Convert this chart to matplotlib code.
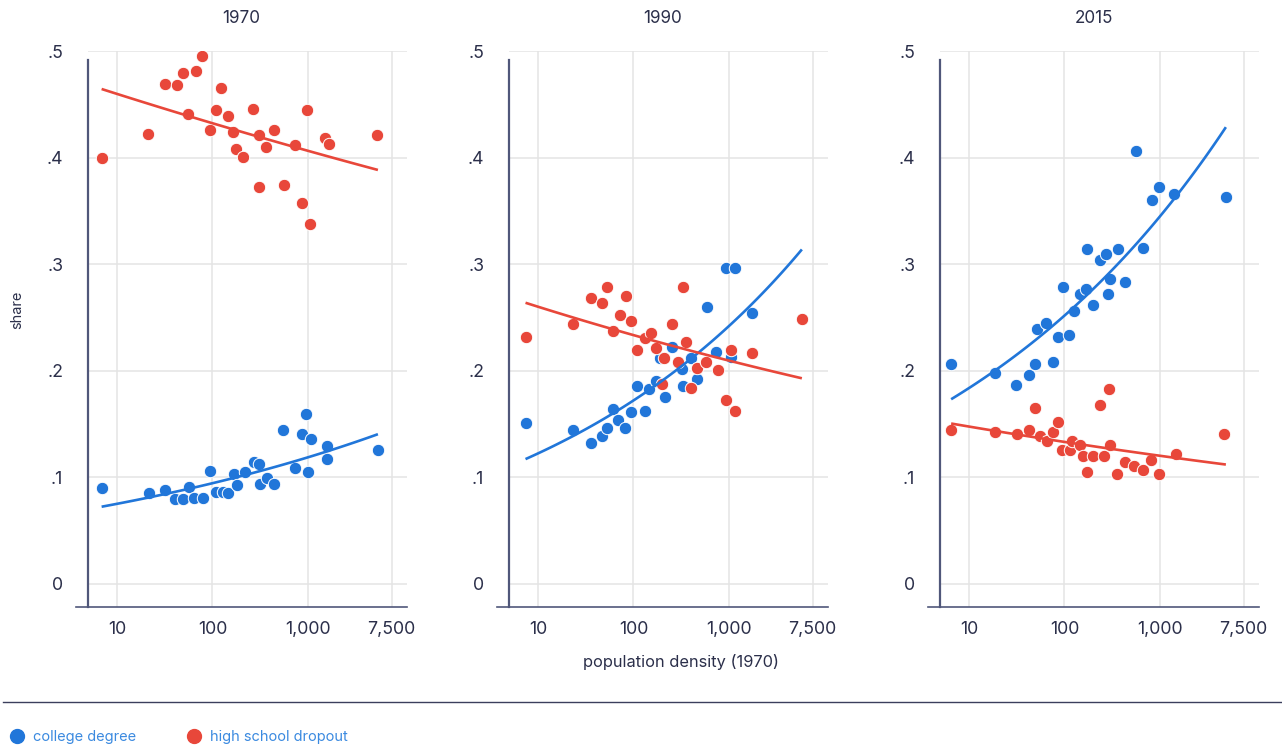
import numpy as np
import matplotlib
matplotlib.use("Agg")
import matplotlib.pyplot as plt
from matplotlib.lines import Line2D

plt.rcParams["font.family"] = ["Inter", "DejaVu Sans"]

BLUE = "#2176d9"
RED = "#e8473a"
INK = "#2b2f4a"
SPINE = "#50577a"
GRID = "#e4e4e4"

years = ["1970", "1990", "2015"]

# 1970
col_x_1970 = [6.9, 21.8, 31.8, 40.5, 49.4, 57, 63.8, 79.4, 94, 108.7, 129, 145, 167, 181, 217,
              271, 309, 311, 374, 440, 543, 725, 859, 963, 1003, 1063, 1582, 1582, 5400]
col_y_1970 = [0.090, 0.085, 0.088, 0.080, 0.080, 0.091, 0.081, 0.081, 0.106, 0.086, 0.086, 0.085, 0.1035, 0.093, 0.105,
              0.114, 0.113, 0.094, 0.099, 0.0935, 0.1445, 0.109, 0.141, 0.159, 0.105, 0.136, 0.129, 0.117, 0.126]
hs_x_1970 = [6.9, 20.9, 31.6, 42.7, 48.7, 67.2, 77.1, 55.8, 123.6, 108.2, 93.5, 144, 165, 176,
             210, 266, 309, 307, 366, 440, 556, 736, 859, 984, 1057, 1518, 1648, 5236]
hs_y_1970 = [0.400, 0.422, 0.469, 0.468, 0.479, 0.481, 0.495, 0.441, 0.465, 0.445, 0.426, 0.439, 0.424, 0.408,
             0.401, 0.446, 0.4215, 0.372, 0.410, 0.426, 0.374, 0.412, 0.357, 0.445, 0.338, 0.418, 0.413, 0.421]

# 1990
col_x_1990 = [7.4, 23.3, 35.7, 46.5, 52.6, 60.8, 69, 82.4, 95.3, 108.4, 131.7, 146, 172, 190.6, 215,
              255, 322, 333, 400, 463, 593, 738, 923, 1051, 1148, 1746]
col_y_1990 = [0.151, 0.144, 0.1325, 0.139, 0.146, 0.1645, 0.154, 0.146, 0.161, 0.186, 0.1626, 0.183, 0.1907, 0.2117, 0.175,
              0.222, 0.2017, 0.186, 0.2117, 0.1923, 0.260, 0.218, 0.2967, 0.213, 0.2967, 0.254]
hs_x_1990 = [7.4, 23.3, 35.9, 46.5, 52.6, 60.8, 73.1, 83.2, 95.3, 108.4, 131.7, 152.4, 172, 197,
             208.5, 255, 294, 333, 357, 403, 463, 574, 767, 923, 1059, 1148, 1746, 5800]
hs_y_1990 = [0.232, 0.244, 0.2686, 0.264, 0.279, 0.237, 0.252, 0.2705, 0.2467, 0.2195, 0.2305, 0.2357, 0.2217, 0.188,
             0.2117, 0.244, 0.2085, 0.279, 0.2267, 0.1839, 0.203, 0.208, 0.2008, 0.173, 0.2195, 0.1626, 0.217, 0.249]

# 2015
col_x_2015 = [6.5, 18.8, 31.3, 42.5, 48.7, 75.2, 85.5, 111.5, 51.9, 63.9, 125.6, 97.3, 144, 168,
              198.6, 286, 298.5, 435, 235, 271.6, 174, 366, 661, 558, 832, 977, 1400, 4900]
col_y_2015 = [0.206, 0.198, 0.1867, 0.1958, 0.206, 0.208, 0.2314, 0.2336, 0.239, 0.2446, 0.2564, 0.279, 0.2718, 0.2765,
              0.2617, 0.2718, 0.2861, 0.2836, 0.3043, 0.3093, 0.3143, 0.3143, 0.315, 0.406, 0.360, 0.372, 0.3656, 0.363]
hs_x_2015 = [6.5, 18.8, 32.1, 42.5, 48.7, 55.8, 65, 75.2, 85.5, 95.3, 114.5, 120, 146, 155,
             174, 197, 233, 259, 294, 297, 351, 429, 536, 665, 806, 977, 1469, 4680]
hs_y_2015 = [0.144, 0.1423, 0.1407, 0.1445, 0.165, 0.139, 0.134, 0.1426, 0.152, 0.1254, 0.1254, 0.1344, 0.130, 0.120,
             0.1054, 0.120, 0.168, 0.120, 0.183, 0.130, 0.103, 0.1147, 0.111, 0.107, 0.116, 0.103, 0.122, 0.141]

college = [(col_x_1970, col_y_1970), (col_x_1990, col_y_1990), (col_x_2015, col_y_2015)]
dropout = [(hs_x_1970, hs_y_1970), (hs_x_1990, hs_y_1990), (hs_x_2015, hs_y_2015)]

x_ticks = [10, 100, 1000, 7500]
x_tick_labels = ["10", "100", "1,000", "7,500"]
y_ticks = [0, 0.1, 0.2, 0.3, 0.4, 0.5]
y_tick_labels = ["0", ".1", ".2", ".3", ".4", ".5"]

W, H = 1282, 751
fig = plt.figure(figsize=(W / 100, H / 100), dpi=100)

XMIN, XMAX = 3.72, 10890
YMIN, YMAX = -0.0216, 0.5
offsets = [0, 421, 852]


def trend(ax, x, y, xlo, xhi, color):
    # power-law fit: log(share) linear in log(density)
    b, a = np.polyfit(np.log(np.asarray(x)), np.log(np.asarray(y)), 1)
    xs = np.geomspace(xlo, xhi, 100)
    ax.plot(xs, np.exp(a + b * np.log(xs)), color=color, lw=1.9, zorder=4, solid_capstyle="butt")


for i, dx in enumerate(offsets):
    left = (76 + dx) / W
    ax = fig.add_axes([left, 1 - 607 / H, 331 / W, 556 / H])
    ax.set_xscale("log")
    ax.set_xlim(XMIN, XMAX)
    ax.set_ylim(YMIN, YMAX)

    ax.hlines(y_ticks, 5, XMAX, color=GRID, lw=1.1, zorder=0)
    ax.vlines(x_ticks, YMIN, YMAX, color=GRID, lw=1.1, zorder=0)

    cx, cy = college[i]
    hx, hy = dropout[i]
    ax.scatter(cx, cy, s=80, color=BLUE, edgecolor="white", linewidth=0.7, zorder=2)
    ax.scatter(hx, hy, s=80, color=RED, edgecolor="white", linewidth=0.7, zorder=3)
    xlo = min(min(cx), min(hx))
    xhi = max(max(cx), max(hx))
    trend(ax, cx, cy, xlo, xhi, BLUE)
    trend(ax, hx, hy, xlo, xhi, RED)

    ax.set_xticks(x_ticks)
    ax.set_xticklabels(x_tick_labels)
    ax.xaxis.set_minor_locator(matplotlib.ticker.NullLocator())
    ax.set_yticks(y_ticks)
    ax.set_yticklabels(y_tick_labels)
    ax.tick_params(axis="x", length=0, pad=10, labelsize=12.8, labelcolor=INK)
    ax.tick_params(axis="y", length=0, pad=18, labelsize=12.8, labelcolor=INK)

    for s in ["top", "right"]:
        ax.spines[s].set_visible(False)
    ax.spines["left"].set_position(("data", 5))
    ax.spines["left"].set_bounds(YMIN, 0.492)
    ax.spines["left"].set_color(SPINE)
    ax.spines["left"].set_linewidth(1.6)
    ax.spines["bottom"].set_color(SPINE)
    ax.spines["bottom"].set_linewidth(1.2)

    ax.set_title(years[i], fontsize=12.3, color=INK, pad=20)

fig.text(17 / W, 1 - 310 / H, "share", rotation=90, ha="center", va="center", fontsize=10.5, color=INK)
fig.text(681 / W, 1 - 662 / H, "population density (1970)", ha="center", va="center", fontsize=11.8, color=INK)

fig.add_artist(Line2D([3 / W, 1], [1 - 702 / H, 1 - 702 / H], transform=fig.transFigure, color="#3b3f5c", lw=1.0))

handles = [Line2D([], [], marker="o", ls="", markersize=10, color=BLUE),
           Line2D([], [], marker="o", ls="", markersize=10, color=RED)]
fig.legend(handles, ["college degree", "high school dropout"], loc="center left",
           bbox_to_anchor=(-0.004, 1 - 737 / H), ncol=2, frameon=False, fontsize=10.5,
           labelcolor="#3b8ae0", handletextpad=0.5, columnspacing=3.35, handlelength=1.2)

fig.savefig("out.png", dpi=100)
